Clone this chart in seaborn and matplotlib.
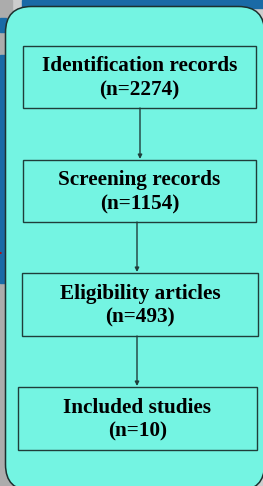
import matplotlib
matplotlib.use("Agg")
import matplotlib.pyplot as plt
import matplotlib.patches as mpatches
import seaborn as sns

# Flow stages and counts
stages = ["Identification records", "Screening records", "Eligibility articles", "Included studies"]
counts = [2274, 1154, 493, 10]

sns.set_theme(style="white")
plt.rcParams['font.family'] = ['Liberation Serif', 'DejaVu Serif']

fig = plt.figure(figsize=(2.63, 4.86), dpi=100, facecolor="#c4c4c4")
ax = fig.add_axes([0, 0, 1, 1])
ax.set_xlim(0, 263)
ax.set_ylim(486, 0)
ax.axis("off")

# slide background bits behind the panel
ax.add_patch(mpatches.Rectangle((0, 0), 263, 486, color="#cdcdcd", zorder=0))
ax.add_patch(mpatches.Rectangle((0, 0), 12, 486, color="#acacac", zorder=0))
ax.add_patch(mpatches.Rectangle((22, 0), 241, 8, color="#1a6aa6", zorder=0))
ax.add_patch(mpatches.Rectangle((0, 55), 6, 228, color="#1a6aa6", zorder=0))
ax.add_patch(mpatches.Rectangle((0, 18), 6, 14, color="#1a6aa6", zorder=0))
ax.annotate("", xy=(5, 253), xytext=(-3, 253),
            arrowprops=dict(arrowstyle="-|>", color="#b01010", lw=1.2), zorder=1)

# cyan panel
panel = mpatches.FancyBboxPatch((5.5, 6.5), 259, 484,
                                boxstyle="round,pad=0,rounding_size=26",
                                facecolor="#74f4e2", edgecolor="#1c2f2e", lw=1.1, zorder=1)
ax.add_patch(panel)

# box geometry (x0, x1, y0, y1)
boxes = [(23, 256, 46, 108), (23, 256, 160, 222), (22, 258, 273, 336), (17.5, 257, 387, 450)]
arrow_x = [140, 137, 137]
edge = "#1f3d3a"

for (x0, x1, y0, y1), name, n in zip(boxes, stages, counts):
    ax.add_patch(mpatches.Rectangle((x0, y0), x1 - x0, y1 - y0, facecolor="none",
                                    edgecolor=edge, lw=1.0, zorder=2))
    yc = (y0 + y1) / 2
    ax.text((x0 + x1) / 2, yc - 11, name, ha="center", va="center",
            fontsize=15.3, fontweight="bold", color="black", zorder=3)
    ax.text((x0 + x1) / 2, yc + 13, f"(n={n})", ha="center", va="center",
            fontsize=15.3, fontweight="bold", color="black", zorder=3)

for i, x in enumerate(arrow_x):
    y_start = boxes[i][3]
    y_end = boxes[i + 1][2]
    ax.annotate("", xy=(x, y_end - 1), xytext=(x, y_start),
                arrowprops=dict(arrowstyle="-|>", color=edge, lw=1.0,
                                mutation_scale=6, shrinkA=0, shrinkB=0), zorder=2)

plt.savefig("out.png", dpi=100, facecolor=fig.get_facecolor())
